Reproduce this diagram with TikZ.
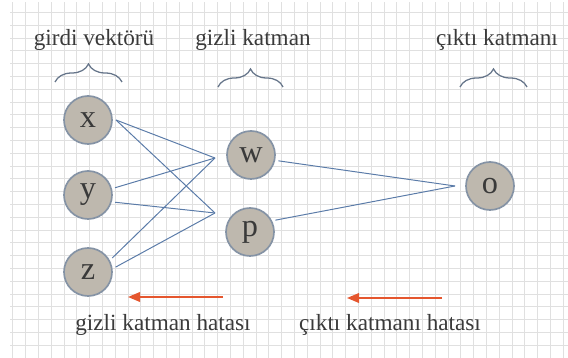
\documentclass[tikz,border=0pt]{standalone}
\usepackage{fontspec}
\setmainfont{Liberation Serif}
\usetikzlibrary{decorations.pathreplacing,arrows.meta}

\definecolor{nodefill}{HTML}{BEB8AE}
\definecolor{nodeedge}{HTML}{8593A5}
\definecolor{linkblue}{HTML}{5A7BA8}
\definecolor{bracegray}{HTML}{66758A}
\definecolor{errorange}{HTML}{E5562E}
\definecolor{labelgray}{HTML}{3A3A3A}
\definecolor{gridgray}{HTML}{E0E0E0}

\begin{document}
\begin{tikzpicture}
  \tikzset{neuron/.style={circle, draw=nodeedge, line width=1.2pt, fill=nodefill,
      minimum size=1.2cm, inner sep=0pt, outer sep=0.1cm, text=labelgray,
      font=\fontsize{23}{23}\selectfont},
    link/.style={linkblue, line width=0.7pt},
    layer/.style={text=labelgray, font=\fontsize{16.5}{20}\selectfont},
    bracket/.style={bracegray, line width=0.9pt, decorate,
      decoration={brace, amplitude=0.45cm}},
    err/.style={errorange, line width=1.2pt, -{Triangle[length=0.3cm, width=0.24cm]}}}
  \useasboundingbox (0,0) rectangle (14.2,8.95);
  \draw[gridgray, line width=0.6pt, step=0.32cm] (0.25,0) grid (14.2,8.9);

  % layer titles and braces
  \node[layer] (tin)  at (2.35,7.95)  {girdi vektörü};
  \node[layer] (thid) at (6.325,7.95) {gizli katman};
  \node[layer] (tout) at (12.425,7.95) {çıktı katmanı};
  \draw[bracket] (1.375,6.9) -- (3.05,6.9);
  \draw[bracket] (5.45,6.775) -- (7.075,6.775);
  \draw[bracket] (11.5,6.775) -- (13.175,6.775);

  % neurons
  \node[neuron] (x) at (2.2,5.95)   {x};
  \node[neuron] (y) at (2.2,4.075)  {y};
  \node[neuron] (z) at (2.2,2.15)   {z};
  \node[neuron] (w) at (6.275,5.075) {w};
  \node[neuron] (p) at (6.25,3.15)  {p};
  \node[neuron] (o) at (12.25,4.3)  {o};
  \coordinate (cw) at (5.375,5.0);
  \coordinate (cp) at (5.375,3.625);
  \coordinate (co) at (11.375,4.3);

  % weights
  \foreach \src in {x.east, y.15, z.30}
    \draw[link] (\src) -- (cw);
  \foreach \src in {x.east, y.-15, z.10}
    \draw[link] (\src) -- (cp);
  \draw[link] (w.-12) -- (co);
  \draw[link] (p.25) -- (co);

  % error flowing back
  \coordinate (e1a) at (5.575,1.525);
  \coordinate (e1b) at (3.2,1.525);
  \coordinate (e2a) at (11.05,1.5);
  \coordinate (e2b) at (8.675,1.5);
  \draw[err] (e1a) -- (e1b);
  \draw[err] (e2a) -- (e2b);
  \node[layer] (ehid) at (4.075,0.825) {gizli katman hatası};
  \node[layer] (eout) at (9.75,0.825)  {çıktı katmanı hatası};
\end{tikzpicture}
\end{document}
